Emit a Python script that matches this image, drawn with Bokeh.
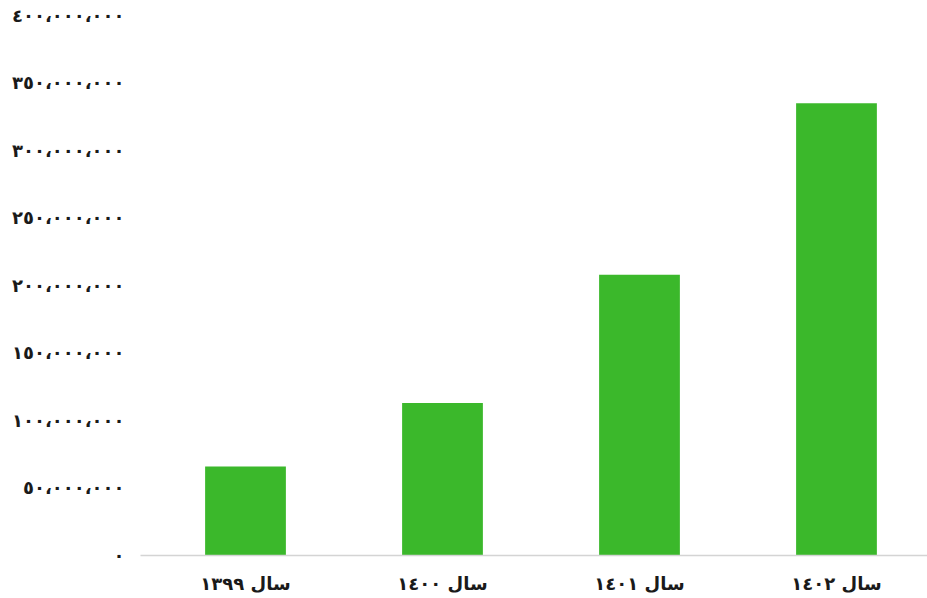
from bokeh.plotting import figure
from bokeh.models import Range1d, FixedTicker, ColumnDataSource
from bokeh.embed import file_html
from bokeh.resources import INLINE

categories = ["سال ١٣٩٩", "سال ١٤٠٠", "سال ١٤٠١", "سال ١٤٠٢"]
values = [66_000_000, 113_000_000, 208_000_000, 335_000_000]
y_ticks = [0, 50_000_000, 100_000_000, 150_000_000, 200_000_000,
           250_000_000, 300_000_000, 350_000_000, 400_000_000]
y_tick_labels = ["٠", "٥٠،٠٠٠،٠٠٠", "١٠٠،٠٠٠،٠٠٠", "١٥٠،٠٠٠،٠٠٠", "٢٠٠،٠٠٠،٠٠٠",
                 "٢٥٠،٠٠٠،٠٠٠", "٣٠٠،٠٠٠،٠٠٠", "٣٥٠،٠٠٠،٠٠٠", "٤٠٠،٠٠٠،٠٠٠"]

xs = list(range(len(categories)))
source = ColumnDataSource(dict(x=xs, top=values))

p = figure(width=927, height=598, output_backend="svg", toolbar_location=None,
           x_range=Range1d(-0.533, 3.462), y_range=Range1d(0, 403_700_000),
           min_border_left=140, min_border_right=0, min_border_top=10, min_border_bottom=43)
p.outline_line_color = None
p.background_fill_color = "white"
p.border_fill_color = "white"

p.vbar(x="x", top="top", width=0.41, source=source, fill_color="#3bb82b", line_color=None)

p.xgrid.grid_line_color = None
p.ygrid.grid_line_color = None

p.xaxis.ticker = FixedTicker(ticks=xs)
p.xaxis.major_label_overrides = {i: c for i, c in zip(xs, categories)}
p.xaxis.axis_line_color = "#d4d4d4"
p.xaxis.axis_line_width = 1.5
p.xaxis.major_tick_line_color = None
p.xaxis.minor_tick_line_color = None
p.xaxis.major_label_text_font = "DejaVu Sans"
p.xaxis.major_label_text_font_style = "bold"
p.xaxis.major_label_text_font_size = "18px"
p.xaxis.major_label_text_color = "#1a1a1a"
p.xaxis.major_label_standoff = 11

p.yaxis.ticker = FixedTicker(ticks=y_ticks)
p.yaxis.major_label_overrides = {t: l for t, l in zip(y_ticks, y_tick_labels)}
p.yaxis.axis_line_color = None
p.yaxis.major_tick_line_color = None
p.yaxis.minor_tick_line_color = None
p.yaxis.major_label_text_font = "DejaVu Sans"
p.yaxis.major_label_text_font_style = "bold"
p.yaxis.major_label_text_font_size = "18px"
p.yaxis.major_label_text_color = "#1a1a1a"
p.yaxis.major_label_standoff = 10

open("out.html", "w").write(file_html(p, INLINE))
